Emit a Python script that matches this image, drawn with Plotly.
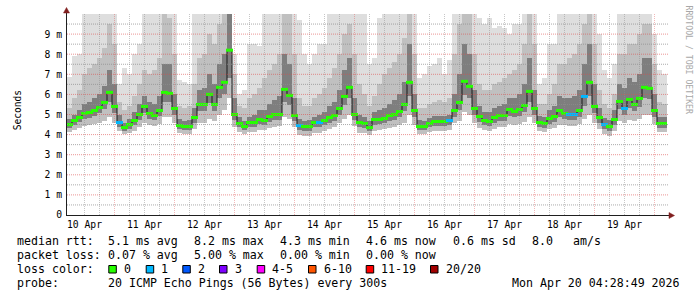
import plotly.graph_objects as go

# ---------------- data ----------------
# bin centres, hours since 10 Apr 00:00 (2-hour bins)
hours = list(range(6, 246, 2))

median = [4.5, 4.7, 4.85, 5.05, 5.1, 5.2, 5.35, 5.6, 6.1, 5.4,
          4.6, 4.35, 4.5, 4.7, 5.0, 5.4, 5.05, 4.95, 5.2, 6.1,
          6.05, 5.3, 4.45, 4.4, 4.4, 4.85, 5.5, 5.5, 6.0, 5.5,
          6.35, 6.6, 8.2, 5.0, 4.55, 4.4, 4.6, 4.6, 4.75, 4.7,
          4.9, 5.0, 5.0, 6.25, 5.95, 4.95, 4.45, 4.4, 4.4, 4.6,
          4.6, 4.7, 4.85, 4.95, 5.3, 5.9, 6.35, 5.0, 4.6, 4.55,
          4.35, 4.75, 4.75, 4.8, 4.95, 5.0, 5.15, 5.5, 6.6, 5.2,
          4.4, 4.4, 4.55, 4.65, 4.65, 4.65, 4.7, 5.2, 5.6, 6.65,
          6.4, 5.3, 4.9, 4.7, 4.65, 4.85, 4.95, 4.95, 5.25, 5.15,
          5.25, 5.45, 6.15, 5.3, 4.6, 4.55, 4.8, 4.9, 5.2, 5.05,
          5.0, 5.0, 5.2, 5.9, 6.6, 5.4, 4.85, 4.5, 4.4, 4.75,
          5.65, 5.3, 5.75, 5.5, 5.8, 6.35, 6.3, 5.2, 4.55, 4.55]

# smoke: lowest ping
smoke_min = [4.15, 4.25, 4.35, 4.45, 4.5, 4.55, 4.6, 4.7, 4.9, 4.6,
             4.2, 4.05, 4.1, 4.2, 4.4, 4.6, 4.5, 4.45, 4.55, 4.9,
             4.9, 4.6, 4.1, 4.05, 4.05, 4.3, 4.6, 4.6, 4.8, 4.7,
             5.0, 5.2, 5.8, 4.4, 4.15, 4.05, 4.15, 4.15, 4.25, 4.25,
             4.35, 4.4, 4.45, 4.9, 4.8, 4.4, 4.0, 3.95, 3.95, 4.1,
             4.1, 4.2, 4.3, 4.4, 4.6, 4.8, 5.0, 4.45, 4.1, 4.1,
             4.0, 4.2, 4.25, 4.3, 4.35, 4.4, 4.5, 4.6, 5.0, 4.5,
             4.05, 4.05, 4.15, 4.2, 4.2, 4.2, 4.25, 4.6, 4.7, 5.1,
             5.0, 4.6, 4.35, 4.25, 4.2, 4.3, 4.4, 4.4, 4.55, 4.5,
             4.55, 4.65, 4.9, 4.6, 4.2, 4.15, 4.3, 4.35, 4.5, 4.5,
             4.45, 4.45, 4.55, 4.8, 5.0, 4.6, 4.3, 4.05, 3.95, 4.2,
             4.7, 4.6, 4.75, 4.7, 4.8, 5.0, 5.0, 4.55, 4.15, 4.15]

# smoke: lower edge of the dense core
core_low = [4.35, 4.5, 4.65, 4.8, 4.85, 4.95, 5.05, 5.25, 5.6, 5.05,
            4.4, 4.2, 4.3, 4.5, 4.75, 5.05, 4.8, 4.75, 4.95, 5.6,
            5.6, 5.0, 4.3, 4.25, 4.25, 4.6, 5.15, 5.15, 5.55, 5.15,
            5.8, 6.0, 6.8, 4.75, 4.4, 4.25, 4.4, 4.4, 4.55, 4.5,
            4.65, 4.75, 4.75, 5.6, 5.45, 4.7, 4.25, 4.2, 4.2, 4.4,
            4.4, 4.5, 4.6, 4.7, 5.0, 5.45, 5.8, 4.75, 4.4, 4.35,
            4.2, 4.5, 4.55, 4.6, 4.7, 4.75, 4.9, 5.15, 5.9, 4.9,
            4.25, 4.25, 4.4, 4.45, 4.45, 4.45, 4.5, 4.9, 5.2, 5.95,
            5.8, 5.0, 4.65, 4.5, 4.45, 4.6, 4.7, 4.7, 4.95, 4.9,
            4.95, 5.1, 5.6, 5.0, 4.4, 4.35, 4.55, 4.65, 4.9, 4.8,
            4.75, 4.75, 4.9, 5.4, 5.9, 5.05, 4.6, 4.3, 4.2, 4.5,
            5.25, 5.0, 5.3, 5.15, 5.35, 5.8, 5.75, 4.9, 4.35, 4.35]

# smoke: upper edge of the dense core
core_high = [4.8, 5.0, 5.2, 5.5, 5.6, 5.8, 6.0, 6.4, 7.2, 6.5,
             5.0, 4.6, 4.8, 5.1, 5.5, 5.9, 5.6, 5.5, 5.9, 7.5,
             7.5, 6.0, 4.8, 4.7, 4.75, 5.3, 6.2, 6.3, 7.0, 6.5,
             7.5, 8.0, 10.0, 5.8, 4.9, 4.7, 4.9, 5.0, 5.2, 5.2,
             5.5, 5.7, 5.9, 8.0, 7.5, 5.8, 4.8, 4.7, 4.75, 4.9,
             5.0, 5.1, 5.4, 5.6, 6.2, 7.2, 7.8, 5.8, 5.0, 4.9,
             4.7, 5.1, 5.2, 5.3, 5.5, 5.7, 6.0, 6.6, 8.5, 6.0,
             4.75, 4.7, 4.85, 4.95, 4.95, 4.95, 5.0, 6.0, 7.0, 8.5,
             8.0, 6.2, 5.4, 5.1, 5.1, 5.3, 5.4, 5.5, 5.8, 5.8,
             6.0, 6.5, 7.8, 6.2, 4.95, 4.9, 5.2, 5.4, 5.9, 5.8,
             5.8, 5.9, 6.2, 7.5, 8.5, 6.5, 5.3, 4.85, 4.75, 5.2,
             6.5, 6.3, 6.8, 6.6, 7.0, 7.8, 7.8, 6.0, 4.9, 4.9]

# smoke: upper edge of the middle band
mid_high = [5.3, 5.8, 6.2, 7.0, 7.3, 7.5, 7.8, 8.3, 9.5, 8.5,
            5.6, 5.2, 5.4, 5.9, 6.5, 7.2, 7.0, 7.2, 7.8, 10.0,
            9.8, 8.0, 5.4, 5.3, 5.4, 6.5, 7.8, 8.0, 9.0, 8.5,
            9.5, 10.0, 10.0, 7.0, 5.4, 5.3, 5.8, 6.0, 6.3, 6.8,
            7.2, 7.5, 8.0, 10.0, 10.0, 8.0, 5.8, 5.4, 5.4, 5.8,
            6.0, 6.3, 6.8, 7.3, 8.0, 9.0, 9.5, 8.0, 6.5, 6.0,
            5.4, 5.9, 6.5, 7.0, 7.3, 7.6, 8.0, 8.8, 10.0, 8.0,
            5.3, 5.3, 5.5, 5.6, 5.7, 5.6, 5.8, 8.0, 9.5, 10.0,
            10.0, 8.0, 6.5, 6.2, 6.2, 6.5, 6.6, 6.8, 7.0, 7.2,
            7.5, 8.5, 10.0, 8.5, 5.5, 5.5, 6.0, 6.5, 7.5, 7.5,
            7.8, 8.0, 8.5, 9.5, 10.0, 8.5, 6.2, 5.5, 5.3, 6.0,
            8.0, 8.0, 8.5, 8.5, 9.0, 9.5, 9.5, 7.5, 5.6, 5.5]

# smoke: highest ping (clipped at 10 ms)
smoke_max = [6.85, 7.9, 8.0, 10, 10, 10, 10, 10, 10, 10,
             6.5, 7.3, 7.0, 8.0, 8.5, 10, 10, 10, 10, 10,
             10, 10, 6.7, 6.6, 6.5, 10, 10, 10, 10, 10,
             10, 10, 10, 8.0, 6.0, 6.2, 8.5, 8.5, 8.4, 10,
             10, 10, 10, 10, 10, 10, 9.7, 8.0, 7.5, 8.0,
             8.5, 8.5, 10, 10, 10, 10, 10, 10, 10, 10,
             7.5, 7.8, 9.8, 10, 10, 10, 10, 10, 10, 10,
             6.8, 7.0, 7.4, 7.5, 7.8, 7.0, 7.7, 10, 10, 10,
             10, 10, 9.8, 9.5, 9.8, 9.3, 9.4, 9.3, 9.0, 9.5,
             9.5, 10, 10, 10, 6.5, 6.8, 8.5, 8.5, 10, 10,
             10, 10, 10, 10, 10, 10, 9.0, 7.2, 6.8, 7.5,
             10, 10, 10, 10, 10, 10, 10, 9.0, 7.2, 7.0]

# lost pings (out of 20) per bin, where any
loss_events = {26: 1, 98: 1, 106: 1, 158: 1, 206: 1, 208: 1, 212: 1, 220: 1, 228: 1}

day_labels = ["10 Apr", "11 Apr", "12 Apr", "13 Apr", "14 Apr",
              "15 Apr", "16 Apr", "17 Apr", "18 Apr", "19 Apr"]
label_hours = [12, 36, 60, 84, 108, 132, 156, 180, 204, 228]
y_ticks = [0, 1, 2, 3, 4, 5, 6, 7, 8, 9]
y_tick_text = ["0", "1 m", "2 m", "3 m", "4 m", "5 m", "6 m", "7 m", "8 m", "9 m"]

loss_labels = ["0", "1", "2", "3", "4-5", "6-10", "11-19", "20/20"]
loss_colors = ["#26ff00", "#00b8ff", "#0059ff", "#7e00ff",
               "#ff00ff", "#ff5500", "#ff0000", "#a10000"]
loss_upper = [0, 1, 2, 3, 5, 10, 19, 20]

rtt_stats = [5.1, 8.2, 4.3, 4.6]      # avg, max, min, now (ms)
rtt_sd = 0.6
rtt_am = 8.0
loss_stats = [0.07, 5.00, 0.00, 0.00]  # avg, max, min, now (%)
probe_text = "20 ICMP Echo Pings (56 Bytes) every 300s"
stamp_text = "Mon Apr 20 04:28:49 2026"

# ---------------- helpers ----------------
L, T, W, H = 67, 14, 600, 201
MONO = "DejaVu Sans Mono"


def pxx(x):
    return (x - L) / W


def pxy(y):
    return (T + H - y) / H


def bucket(n):
    for i, up in enumerate(loss_upper):
        if n <= up:
            return i
    return len(loss_upper) - 1


loss = [loss_events.get(h, 0) for h in hours]
dash_colors = [loss_colors[bucket(n)] for n in loss]

fig = go.Figure()


def band(lower, upper, color):
    fig.add_trace(go.Bar(
        x=hours, base=lower, y=[u - l for u, l in zip(upper, lower)],
        width=2, marker=dict(color=color, line=dict(width=0)),
        hoverinfo="skip", showlegend=False))


band(smoke_min, smoke_max, "#dedede")
band(smoke_min, mid_high, "#c0c0c0")
band(core_low, core_high, "#7e7e7e")

fig.add_trace(go.Scatter(
    x=hours, y=median, mode="lines", line=dict(color="#1a1a1a", width=1, shape="hvh"),
    hoverinfo="skip", showlegend=False))
fig.add_trace(go.Scatter(
    x=hours, y=median, mode="markers",
    marker=dict(symbol="line-ew", size=5, line=dict(color=dash_colors, width=3)),
    hoverinfo="skip", showlegend=False))

# ---------------- grid (drawn above the smoke, as rrdtool does) ----------------
GRID_V = "rgba(143,143,143,0.5)"
MGRID_V = "rgba(222,79,79,0.4)"
GRID_H = "rgba(143,143,143,0.75)"
MGRID_H = "rgba(222,79,79,0.6)"
shapes = []
for h in range(12, 240, 6):
    if h % 24:
        shapes.append(dict(type="line", xref="x", yref="paper", x0=h, x1=h, y0=0, y1=1,
                           line=dict(color=GRID_V, width=1, dash="1px,1px"), layer="above"))
for h in range(24, 241, 24):
    shapes.append(dict(type="line", xref="x", yref="paper", x0=h, x1=h, y0=0, y1=1,
                       line=dict(color=MGRID_V, width=1, dash="1px,1px"), layer="above"))
for k in range(1, 20):
    v = k / 2
    shapes.append(dict(type="line", xref="paper", yref="y", x0=0, x1=pxx(668), y0=v, y1=v,
                       line=dict(color=MGRID_H if k % 2 == 0 else GRID_H, width=1, dash="1px,1px"),
                       layer="above"))

# axes and arrows
AXIS = "#1f1f1f"
ARROW = "#801f1f"
shapes.append(dict(type="line", xref="paper", yref="paper", x0=pxx(66.5), x1=pxx(66.5),
                   y0=pxy(215.5), y1=pxy(12), line=dict(color=AXIS, width=1), layer="above"))
shapes.append(dict(type="line", xref="paper", yref="paper", x0=pxx(66), x1=pxx(670),
                   y0=pxy(215.5), y1=pxy(215.5), line=dict(color=AXIS, width=1), layer="above"))


def tri(points):
    p = " L ".join(f"{pxx(a):.5f},{pxy(b):.5f}" for a, b in points)
    return "M " + p + " Z"


shapes.append(dict(type="path", xref="paper", yref="paper",
                   path=tri([(63.5, 13), (69.5, 13), (66.5, 7.5)]),
                   fillcolor=ARROW, line=dict(color=ARROW, width=0.5), layer="above"))
shapes.append(dict(type="path", xref="paper", yref="paper",
                   path=tri([(669, 212.5), (669, 218.5), (674.5, 215.5)]),
                   fillcolor=ARROW, line=dict(color=ARROW, width=0.5), layer="above"))

# ---------------- legend / text ----------------
annotations = []


def text(s, x, y, size=11.6, anchor="left", angle=0, color="#000000"):
    annotations.append(dict(text=s, x=pxx(x), y=pxy(y), xref="paper", yref="paper",
                            xanchor=anchor, yanchor="middle", showarrow=False,
                            borderpad=0, textangle=angle,
                            font=dict(family=MONO, size=size, color=color)))


ROW = [241.3, 255.3, 269.3, 283.3]
COL = [15.5, 107, 193, 279, 364.5, 451.5]

text("median rtt:", COL[0], ROW[0])
for c, v, w in zip(COL[1:5], rtt_stats, ["avg", "max", "min", "now"]):
    text(f"{v:.1f} ms {w}", c, ROW[0])
text(f"{rtt_sd:.1f} ms sd", COL[5], ROW[0])
text(f"{rtt_am:.1f}", 530.5, ROW[0])
text("am/s", 571.5, ROW[0])

text("packet loss:", COL[0], ROW[1])
for c, v, w in zip(COL[1:5], loss_stats, ["avg", "max", "min", "now"]):
    text(f"{v:.2f} % {w}", c, ROW[1])

text("loss color:", COL[0], ROW[2])
SQ = [108.3, 145.7, 182.3, 219, 256.7, 308, 365.7, 430]
for sx, lab, col in zip(SQ, loss_labels, loss_colors):
    shapes.append(dict(type="rect", xref="paper", yref="paper",
                       x0=pxx(sx + 0.5), x1=pxx(sx + 8), y0=pxy(273), y1=pxy(265.5),
                       fillcolor=col, line=dict(color="#000000", width=1), layer="above"))
    text(lab, sx + 14.5, ROW[2])

text("probe:", COL[0], ROW[3])
text(probe_text, COL[1], ROW[3])
text(stamp_text, 680.5, ROW[3], anchor="right")

text("Seconds", 10.8, 110, size=9.6, angle=-90)
text("RRDTOOL / TOBI OETIKER", 688.5, 60, size=8.2, anchor="center", angle=90, color="#a8a8a8")

fig.update_layout(
    width=697, height=297,
    margin=dict(l=L, r=697 - L - W, t=T, b=297 - T - H, pad=0),
    paper_bgcolor="#ffffff", plot_bgcolor="#ffffff",
    barmode="overlay", bargap=0,
    font=dict(family=MONO, size=10, color="#000000"),
    shapes=shapes, annotations=annotations,
    xaxis=dict(range=[5, 245], tickmode="array", tickvals=label_hours, ticktext=day_labels,
               showgrid=False, zeroline=False, showline=False, ticks="",
               ticklabelstandoff=2,
               tickfont=dict(family=MONO, size=9.7, color="#000000"), fixedrange=True),
    yaxis=dict(range=[0, 10], tickmode="array", tickvals=y_ticks, ticktext=y_tick_text,
               showgrid=False, zeroline=False, showline=False, ticks="",
               ticklabelstandoff=4,
               tickfont=dict(family=MONO, size=9.7, color="#000000"), fixedrange=True),
    showlegend=False,
)

fig.write_html("out.html", config={"displayModeBar": False})
